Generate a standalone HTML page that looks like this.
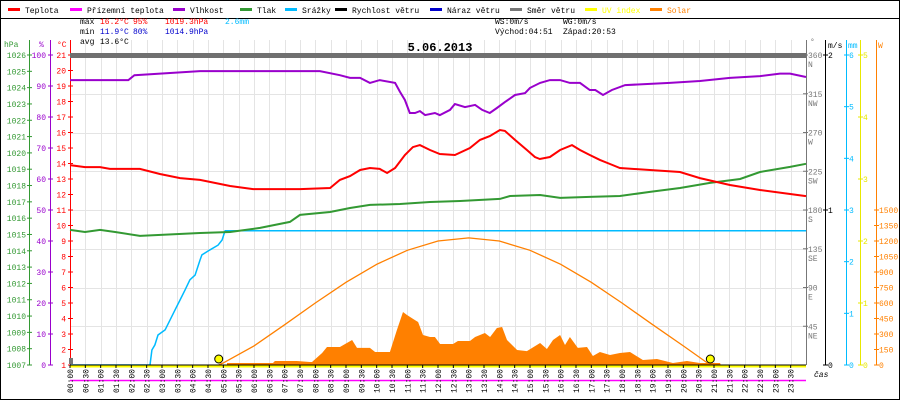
<!DOCTYPE html>
<html><head><meta charset="utf-8"><style>
html,body{margin:0;padding:0;background:#fff;}
svg{display:block;font-family:"Liberation Mono",monospace;}
</style></head><body>
<svg id="c" width="900" height="400" viewBox="0 0 900 400"></svg>
<script>
// ---- data (hours of day) ----
const tempHours=[0,0.49,0.98,1.3,2.28,2.93,3.59,4.24,5.22,5.97,7.5,8.48,8.8,9.13,9.46,9.78,10.1,10.34,10.6,10.92,11.18,11.41,11.74,12.06,12.55,13.04,13.37,13.69,14.02,14.18,14.51,14.9,15.16,15.32,15.65,15.98,16.37,16.63,16.95,17.28,17.61,17.93,18.91,19.89,20.54,21.52,22.5,23.48,24];
const tempValues=[13.9,13.77,13.77,13.65,13.65,13.32,13.06,12.94,12.55,12.35,12.35,12.42,12.94,13.19,13.58,13.71,13.65,13.39,13.71,14.55,15.06,15.19,14.87,14.61,14.55,15.0,15.52,15.77,16.16,16.1,15.52,14.87,14.42,14.29,14.42,14.87,15.19,14.87,14.55,14.23,13.97,13.71,13.58,13.45,13.06,12.61,12.29,12.03,11.9];
const humHours=[0,0.98,1.9,2.1,4.24,8.15,8.8,9.13,9.46,9.78,10.1,10.6,10.76,10.92,11.08,11.25,11.41,11.58,11.9,12.06,12.39,12.55,12.88,13.21,13.44,13.69,13.92,14.18,14.51,14.84,15.0,15.33,15.65,15.98,16.3,16.63,16.95,17.13,17.38,17.67,18.1,19.56,20.54,21.52,22.5,23.15,23.48,24];
const humValues=[91.9,91.9,91.9,93.5,94.8,94.8,93.5,92.6,92.6,91,91.9,91,88.1,85.5,81.3,81.3,81.9,80.6,81.3,80.6,82.3,84.2,83.2,83.9,82.3,81.3,82.9,84.8,87.1,87.7,89.4,91,91.9,91.9,91,91,88.7,88.7,87.1,88.7,90.3,91,91.6,92.6,93.2,94,94,92.9];
const presHours=[0,0.49,0.98,1.47,2.28,4.24,5.22,6.2,7.17,7.5,8.48,9.13,9.78,10.76,11.74,12.72,14.02,14.35,15.33,15.98,16.95,17.93,18.91,19.89,20.87,21.85,22.5,23.48,24];
const presValues=[1015.28,1015.15,1015.28,1015.15,1014.91,1015.09,1015.15,1015.4,1015.77,1016.2,1016.38,1016.62,1016.81,1016.87,1016.99,1017.05,1017.18,1017.36,1017.42,1017.24,1017.3,1017.36,1017.61,1017.85,1018.16,1018.4,1018.83,1019.14,1019.33];
const rainHours=[0,2.61,2.67,2.77,2.87,3.1,3.26,3.42,3.59,3.75,3.91,4.08,4.24,4.3,4.57,4.83,4.96,5.05,5.06,24];
const rainValues=[0,0,0.29,0.39,0.58,0.68,0.87,1.06,1.26,1.45,1.65,1.74,2.03,2.13,2.23,2.32,2.42,2.59,2.6,2.6];
const solarHours=[5.12,5.87,6.62,6.68,7.4,7.83,7.89,8.22,8.38,8.8,9.2,9.36,9.78,9.95,10.43,10.66,10.86,10.99,11.25,11.35,11.51,11.74,11.9,12.07,12.49,12.65,13.04,13.21,13.53,13.7,13.92,14.09,14.25,14.58,14.9,15.33,15.55,15.75,15.98,16.14,16.3,16.56,16.86,17.05,17.28,17.61,17.93,18.26,18.68,19.14,19.66,20.12,20.54,21.2,21.22];
const solarValues=[19,19,19,39,39,29,29,116,174,174,242,165,165,126,126,339,513,484,435,416,290,271,271,203,203,232,232,271,310,271,358,368,242,145,135,213,155,242,290,194,271,165,174,87,126,97,116,126,48,58,19,39,19,19,0];
const maxSolHours=[4.85,5,6,7,8,9,10,11,12,13,14,15,16,17,18,19,20,20.88];
const maxSolValues=[0,20,185,390,600,800,975,1110,1200,1230,1200,1110,975,800,600,390,185,0];
const tickLabels=["00:00","00:30","01:00","01:30","02:00","02:30","03:00","03:30","04:00","04:30","05:00","05:30","06:00","06:30","07:00","07:30","08:00","08:30","09:00","09:30","10:00","10:30","11:00","11:30","12:00","12:30","13:00","13:30","14:00","14:30","15:00","15:30","16:00","16:30","17:00","17:30","18:00","18:30","19:00","19:30","20:00","20:30","21:00","21:30","22:00","22:30","23:00","23:30"];
const sunEvents=[4.85,20.88];

// ---- scales ----
const X0=70,X1=806,Y0=55,Y1=365;
const xs=h=>X0+h*(X1-X0)/24;
const yT=v=>Y0+(21-v)*(Y1-Y0)/20;
const yH=v=>Y0+(100-v)*(Y1-Y0)/100;
const yP=v=>Y0+(1026-v)*(Y1-Y0)/19;
const yR=v=>Y1-v*(Y1-Y0)/6;
const yS=v=>Y1-v*155/1500;

const svg=document.getElementById('c');
const NS='http://www.w3.org/2000/svg';
function mk(tag,attrs,parent){const e=document.createElementNS(NS,tag);for(const k in attrs)e.setAttribute(k,attrs[k]);(parent||svg).appendChild(e);return e;}
function txt(x,y,s,fill,opts){const e=mk('text',Object.assign({x:x,y:y,fill:fill,'font-size':8},opts||{}));e.textContent=s;return e;}

// frame
let e=mk('rect',{x:0.5,y:0.5,width:899,height:399,fill:'none',stroke:'#000'});

mk('line',{x1:0,y1:18.5,x2:900,y2:18.5,stroke:'#000'});

// grid
const grid=mk('g',{stroke:'#e4e4e4','stroke-width':1});

for(let i=1;i<48;i++){const x=Math.round(xs(i/2))+0.5;mk('line',{x1:x,y1:Y0-15,x2:x,y2:Y1},grid);}
for(let k=1;k<8;k++){const y=Math.round(Y0+k*(Y1-Y0)/8)+0.5;mk('line',{x1:X0,y1:y,x2:X1,y2:y},grid);}

// legend
const legend=[["Teplota","#ff0000",8],["Přízemní teplota","#ff00ff",70],["Vlhkost","#9900cc",173],["Tlak","#339933",240],["Srážky","#00bbff",285],["Rychlost větru","#000000",335],["Náraz větru","#0000cc",430],["Směr větru","#777777",510],["UV index","#ffff00",585],["Solar","#ff8000",650]];
legend.forEach(l=>{
  const g=mk('g',{});
  
  
  mk('rect',{x:l[2],y:8,width:12,height:3,fill:l[1]},g);
  const t=mk('text',{x:l[2]+17,y:13,fill:(l[1]==='#ffff00'||l[1]==='#ff8000')?l[1]:'#000','font-size':8},g);t.textContent=l[0];
});

// stats
const st=mk('g',{'font-size':8});

[["max",24],["min",34],["avg",44]].forEach(r=>{const t=mk('text',{x:80,y:r[1]},st);t.textContent=r[0];});
[[100,24,"16.2°C","#ff0000"],[133,24,"95%","#ff0000"],[165,24,"1019.3hPa","#ff0000"],[225,24,"2.6mm","#00bbff"],
 [100,34,"11.9°C","#0000cc"],[133,34,"80%","#0000cc"],[165,34,"1014.9hPa","#0000cc"],[100,44,"13.6°C","#000"],
 [495,24,"WS:0m/s","#000"],[563,24,"WG:0m/s","#000"],[495,34,"Východ:04:51","#000"],[563,34,"Západ:20:53","#000"]].forEach(r=>{const t=mk('text',{x:r[0],y:r[1],fill:r[3]},st);t.textContent=r[2];});
e=txt(440,51,"5.06.2013","#000",{'font-size':12,'font-weight':'bold','text-anchor':'middle'});


// left axes
function axis(name,x,color,vals,yf,lx){
  const g=mk('g',{fill:color,'font-size':8});
  
  mk('line',{x1:x+0.5,y1:40,x2:x+0.5,y2:Y1,stroke:color},g);
  vals.forEach(v=>{const y=yf(v);mk('line',{x1:x-2,y1:y,x2:x+3,y2:y,stroke:color},g);const t=mk('text',{x:lx,y:y+3,'text-anchor':'end'},g);t.textContent=String(v);});
  return g;
}
const hpaTicks=[];for(let v=1007;v<=1026;v++)hpaTicks.push(v);
const humTicks=[0,10,20,30,40,50,60,70,80,90,100];
const tTicks=[];for(let v=1;v<=21;v++)tTicks.push(v);
axis('pressure-axis',29,'#339933',hpaTicks,yP,26);
axis('humidity-axis',50,'#9900cc',humTicks,yH,46);
axis('temperature-axis',70,'#ff0000',tTicks,yT,66);
txt(4,47,"hPa","#339933");txt(39,47,"%","#9900cc");txt(57,47,"°C","#ff0000");

// right axes
const dirG=mk('g',{fill:'#777','font-size':8});

mk('line',{x1:806.5,y1:40,x2:806.5,y2:Y1,stroke:'#777'},dirG);
[[360,"N"],[315,"NW"],[270,"W"],[225,"SW"],[180,"S"],[135,"SE"],[90,"E"],[45,"NE"]].forEach(d=>{const y=Y1-d[0]*(Y1-Y0)/360;mk('line',{x1:803,y1:y,x2:808,y2:y,stroke:'#777'},dirG);let t=mk('text',{x:808,y:y+3},dirG);t.textContent=d[0];t=mk('text',{x:808,y:y+12},dirG);t.textContent=d[1];});
txt(810,44,"°","#777");
function raxis(name,x,color,vals,yf,top){
  const g=mk('g',{fill:color,'font-size':8});
  
  mk('line',{x1:x+0.5,y1:top,x2:x+0.5,y2:Y1,stroke:color},g);
  vals.forEach(v=>{const y=yf(v);mk('line',{x1:x-2,y1:y,x2:x+3,y2:y,stroke:color},g);const t=mk('text',{x:x+3,y:y+3},g);t.textContent=String(v);});
}
raxis('wind-speed-axis',825,'#000',[0,1,2],v=>Y1-v*(Y1-Y0)/2,40);
raxis('rain-axis',846,'#00bbff',[0,1,2,3,4,5,6],yR,40);
raxis('uv-axis',860,'#e8e800',[0,1,2,3,4,5],v=>Y1-v*(Y1-Y0)/5,40);
raxis('solar-axis',876,'#ff8000',[0,150,300,450,600,750,900,1050,1200,1350,1500],yS,40);
txt(828,48,"m/s","#000");txt(848,48,"mm","#00bbff");txt(878,48,"W","#ff8000");
txt(814,377,"čas","#000",{'font-style':'italic'});

function pts(hs,vs,yf){return hs.map((h,i)=>xs(h).toFixed(1)+','+yf(vs[i]).toFixed(1)).join(' ');}

// solar area
e=mk('polygon',{points:xs(solarHours[0])+','+Y1+' '+pts(solarHours,solarValues,yS)+' '+xs(solarHours[solarHours.length-1])+','+Y1,fill:'#ff8000'});

e=mk('polyline',{points:pts(maxSolHours,maxSolValues,yS),fill:'none',stroke:'#ff8000','stroke-width':1.3});


e=mk('rect',{x:X0,y:53,width:X1-X0,height:5,fill:'#707070'});


e=mk('polyline',{points:pts(rainHours,rainValues,yR),fill:'none',stroke:'#00bbff','stroke-width':1.5});

e=mk('polyline',{points:pts(presHours,presValues,yP),fill:'none',stroke:'#339933','stroke-width':2});

e=mk('polyline',{points:pts(humHours,humValues,yH),fill:'none',stroke:'#9900cc','stroke-width':2});

e=mk('polyline',{points:pts(tempHours,tempValues,yT),fill:'none',stroke:'#ff0000','stroke-width':2});


mk('line',{x1:X0,y1:365,x2:X1,y2:365,stroke:'#000','stroke-width':1});
e=mk('line',{x1:X0,y1:366.5,x2:X1,y2:366.5,stroke:'#ffff00','stroke-width':2});

e=mk('line',{x1:X0,y1:380.5,x2:X1,y2:380.5,stroke:'#ff00ff','stroke-width':1.5});

mk('rect',{x:69,y:358,width:4,height:6,fill:'#777'});

sunEvents.forEach(h=>{const c=mk('circle',{cx:xs(h),cy:359,r:4,fill:'#ffff00',stroke:'#000','stroke-width':1});

});

tickLabels.forEach((s,i)=>{const x=xs(i/2);
  mk('line',{x1:x,y1:365,x2:x,y2:368,stroke:'#000'});
  const t=mk('text',{x:0,y:0,'font-size':8,fill:'#000','text-anchor':'end',transform:'translate('+(x+3)+',369) rotate(-90)'});
  
  
  t.textContent=s;});
</script>
</body></html>
